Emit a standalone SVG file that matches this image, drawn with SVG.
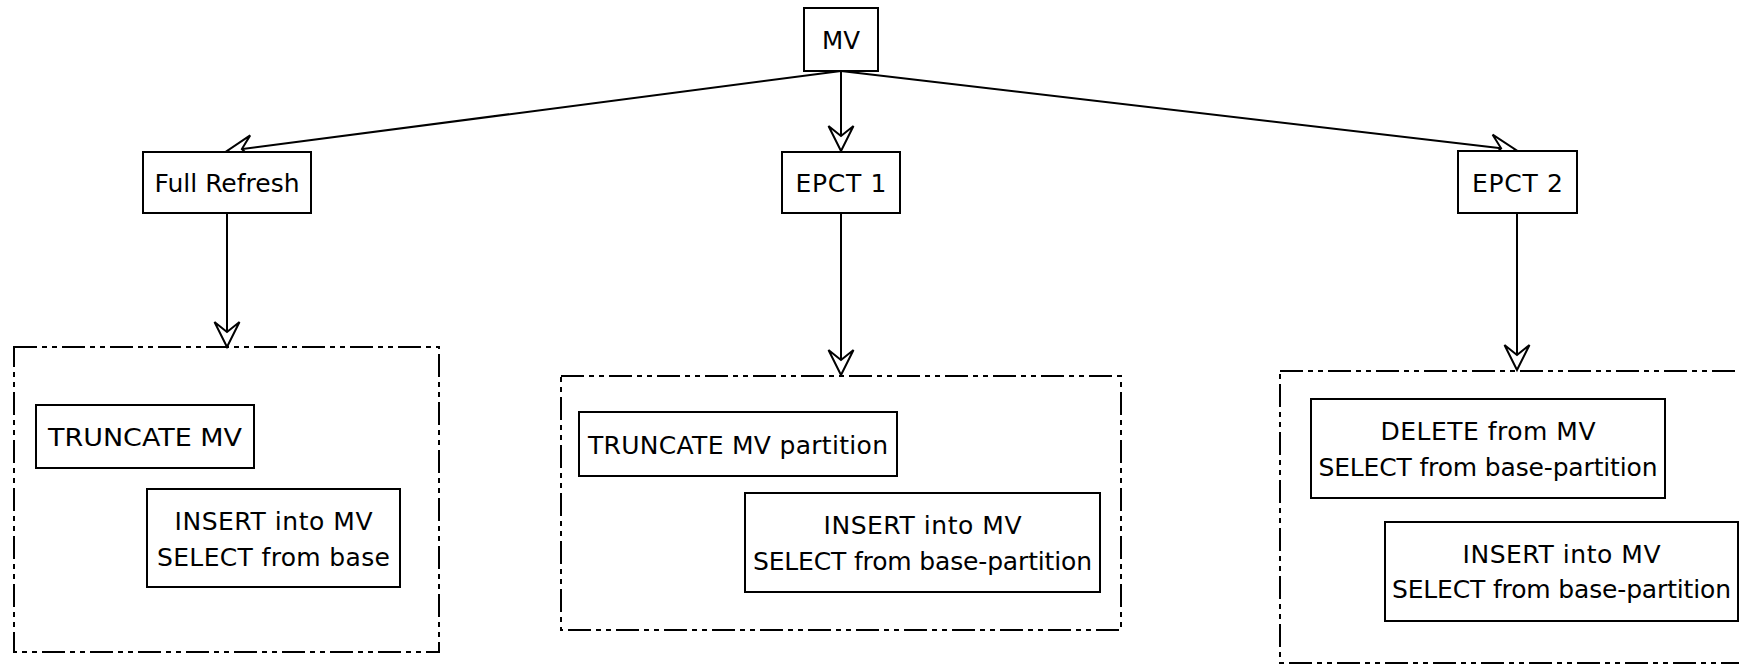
<svg xmlns="http://www.w3.org/2000/svg" width="1739" height="665" viewBox="0 0 1739 665">
<style>
.box{fill:#fff;stroke:#000;stroke-width:2}
.grp{fill:none;stroke:#000;stroke-width:2;stroke-dasharray:23 5 5 5 5 5}
.t{font-family:"DejaVu Sans",sans-serif;font-size:25px;fill:#000;text-anchor:middle}
.c{fill:none;stroke:#000;stroke-width:2;marker-end:url(#arr)}
</style>
<defs>
<marker id="arr" markerUnits="userSpaceOnUse" markerWidth="30" markerHeight="30" viewBox="-27 -15 30 30" refX="0" refY="0" orient="auto">
<path d="M -25 -12.5 L 0 0 L -25 12.5 L -15 0 Z" fill="#fff" stroke="#000" stroke-width="2" stroke-linejoin="miter"/>
</marker>
</defs>
<rect width="1739" height="665" fill="#fff"/>
<g id="connectors">
<line class="c" x1="841" y1="71" x2="227" y2="151"/>
<line class="c" x1="841" y1="71" x2="841" y2="151"/>
<line class="c" x1="841" y1="71" x2="1516" y2="150"/>
<line class="c" x1="227" y1="213" x2="227" y2="347"/>
<line class="c" x1="841" y1="213" x2="841" y2="375"/>
<line class="c" x1="1517" y1="213" x2="1517" y2="370"/>
</g>
<g id="group-full-refresh">
<rect class="grp" x="14" y="347" width="425" height="305"/>
</g>
<g id="group-epct1">
<rect class="grp" x="561" y="376" width="560" height="254"/>
</g>
<g id="group-epct2">
<rect class="grp" x="1280" y="371" width="470" height="292"/>
</g>
<g id="mv">
<rect class="box" x="804" y="8" width="74" height="63"/>
<text class="t" x="841" y="49" textLength="38" lengthAdjust="spacingAndGlyphs">MV</text>
</g>
<g id="full-refresh">
<rect class="box" x="143" y="152" width="168" height="61"/>
<text class="t" x="227" y="192" textLength="145">Full Refresh</text>
</g>
<g id="epct1">
<rect class="box" x="782" y="152" width="118" height="61"/>
<text class="t" x="841" y="192" textLength="91">EPCT 1</text>
</g>
<g id="epct2">
<rect class="box" x="1458" y="151" width="119" height="62"/>
<text class="t" x="1517.5" y="192" textLength="91">EPCT 2</text>
</g>
<g id="fr-truncate">
<rect class="box" x="36" y="405" width="218" height="63"/>
<text class="t" x="145" y="446" textLength="194" lengthAdjust="spacingAndGlyphs">TRUNCATE MV</text>
</g>
<g id="fr-insert">
<rect class="box" x="147" y="489" width="253" height="98"/>
<text class="t" x="273.5" y="530" textLength="198">INSERT into MV</text>
<text class="t" x="273.5" y="566" textLength="233">SELECT from base</text>
</g>
<g id="e1-truncate">
<rect class="box" x="579" y="412" width="318" height="64"/>
<text class="t" x="738" y="454" textLength="300">TRUNCATE MV partition</text>
</g>
<g id="e1-insert">
<rect class="box" x="745" y="493" width="355" height="99"/>
<text class="t" x="922.5" y="534" textLength="198">INSERT into MV</text>
<text class="t" x="922.5" y="570" textLength="339">SELECT from base-partition</text>
</g>
<g id="e2-delete">
<rect class="box" x="1311" y="399" width="354" height="99"/>
<text class="t" x="1488" y="440" textLength="215">DELETE from MV</text>
<text class="t" x="1488" y="476" textLength="339">SELECT from base-partition</text>
</g>
<g id="e2-insert">
<rect class="box" x="1385" y="522" width="353" height="99"/>
<text class="t" x="1561.5" y="563" textLength="198">INSERT into MV</text>
<text class="t" x="1561.5" y="598" textLength="339">SELECT from base-partition</text>
</g>
</svg>
